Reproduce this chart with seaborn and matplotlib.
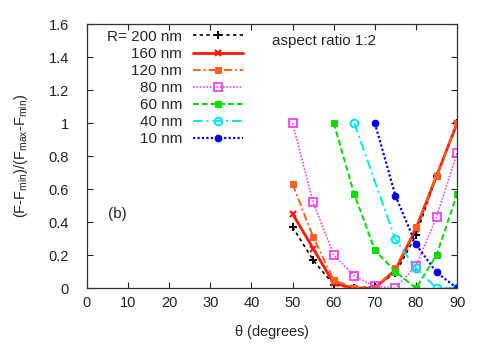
import matplotlib
matplotlib.use("Agg")
import matplotlib.pyplot as plt
import numpy as np
import pandas as pd
import seaborn as sns
from matplotlib.ticker import FuncFormatter, MultipleLocator

# ----------------------------
# Data
# ----------------------------
theta_full = [50, 55, 60, 65, 70, 75, 80, 85, 90]
f_200 = [0.37, 0.17, 0.02, 0.0, 0.01, 0.09, 0.32, 0.68, 1.0]
f_160 = [0.45, 0.24, 0.03, 0.0, 0.0, 0.11, 0.36, 0.68, 1.0]
f_120 = [0.63, 0.31, 0.05, 0.0, 0.0, 0.12, 0.37, 0.68, 1.0]
f_80 = [1.0, 0.52, 0.20, 0.075, 0.01, 0.0, 0.135, 0.43, 0.82]

theta_60 = [60, 65, 70, 75, 80, 85, 90]
f_60 = [1.0, 0.57, 0.23, 0.10, 0.0, 0.20, 0.57]

theta_40 = [65, 75, 80, 85, 90]
f_40 = [1.0, 0.295, 0.12, 0.0, 0.0]

theta_10 = [70, 75, 80, 85, 90]
f_10 = [1.0, 0.56, 0.265, 0.095, 0.0]

labels = ["R= 200 nm", "160 nm", "120 nm", "80 nm", "60 nm", "40 nm", "10 nm"]
thetas = [theta_full, theta_full, theta_full, theta_full, theta_60, theta_40, theta_10]
values = [f_200, f_160, f_120, f_80, f_60, f_40, f_10]

colors = ["black", "#ff1a00", "#ff5f1f", "#ee44ee", "#00dd00", "#00e5ee", "#0000ee"]
styles = [
    dict(marker="+", linestyle=(0, (2, 2)), linewidth=1.2, markersize=6, markeredgewidth=1.4),
    dict(marker="x", linestyle="-", linewidth=2.0, markersize=5, markeredgewidth=1.6),
    dict(marker="s", linestyle=(0, (4, 1.5, 1, 1.5)), linewidth=1.4, markersize=4.5),
    dict(marker="s", linestyle=(0, (1, 1)), linewidth=1.2, markersize=5.2,
         markerfacecolor="none", markeredgewidth=1.3),
    dict(marker="s", linestyle=(0, (3, 1.5)), linewidth=1.4, markersize=4.5),
    dict(marker="o", linestyle=(0, (5, 2, 1, 2)), linewidth=1.4, markersize=5.5,
         markerfacecolor="none", markeredgewidth=1.5),
    dict(marker="o", linestyle=(0, (1, 1)), linewidth=1.6, markersize=4.8),
]

sns.set_theme(style="ticks")
plt.rcParams["font.family"] = ["Liberation Sans", "DejaVu Sans"]
plt.rcParams["mathtext.fontset"] = "custom"
plt.rcParams["mathtext.rm"] = "Liberation Sans"
plt.rcParams["mathtext.it"] = "Liberation Sans"

fig = plt.figure(figsize=(4.91, 3.48), dpi=100)
ax = fig.add_axes([0.177, 0.172, 0.754, 0.759])

for lab, th, val, col, st in zip(labels, thetas, values, colors, styles):
    df = pd.DataFrame({"theta": th, "F": val})
    sns.lineplot(data=df, x="theta", y="F", ax=ax, label=lab, color=col,
                 markeredgecolor=col, **st)

ax.set_xlim(0, 90)
ax.set_ylim(0, 1.6)
ax.xaxis.set_major_locator(MultipleLocator(10))
ax.yaxis.set_major_locator(MultipleLocator(0.2))
ax.yaxis.set_major_formatter(FuncFormatter(lambda v, p: f"{v:g}"))
ax.tick_params(direction="in", top=True, right=True, length=4, width=0.8,
               labelsize=10.5, colors="#222222")
ax.tick_params(axis="y", pad=13)
ax.tick_params(axis="x", pad=6)
for sp in ax.spines.values():
    sp.set_color("#333333")
    sp.set_linewidth(0.9)

ax.set_xlabel(r"$\mathrm{\theta}$ (degrees)", fontsize=10.5, labelpad=9)
ax.set_ylabel(r"(F-F$_\mathrm{min}$)/(F$_\mathrm{max}$-F$_\mathrm{min}$)", fontsize=10.5, labelpad=13)

handles, labs = ax.get_legend_handles_labels()
ax.legend(handles, labs, loc="upper right", bbox_to_anchor=(0.422, 0.978),
          frameon=False, markerfirst=False, fontsize=11, handlelength=3.3,
          handletextpad=0.7, labelspacing=0.2, borderpad=0, borderaxespad=0)

ax.text(45, 1.5, "aspect ratio 1:2", fontsize=11, va="center", ha="left")
ax.text(5.2, 0.45, "(b)", fontsize=11, va="center", ha="left")

fig.savefig("out.png", dpi=100)
